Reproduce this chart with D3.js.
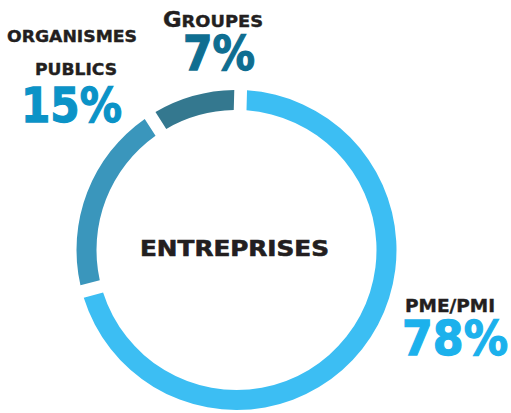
<!DOCTYPE html>
<html>
<head>
<meta charset="utf-8">
<script src="https://cdn.jsdelivr.net/npm/d3@7.9.0/dist/d3.min.js"></script>
<style>
  body { margin: 0; background: #fff; }
  text { font-family: "DejaVu Sans", sans-serif; font-weight: bold; }
</style>
</head>
<body>
<svg width="511" height="413"></svg>
<script>
// categories and values
const categories = ['PME/PMI', 'ORGANISMES PUBLICS', 'GROUPES'];
const percentLabels = [78, 15, 7];
// arc shares as drawn in the picture (the ring does not follow the labels exactly)
const arcShares = [71.5, 19.7, 8.8];
const ringColors = ['#3cbef3', '#3a96bc', '#34788f'];
const labelColors = ['#1cb1ec', '#0b93c7', '#0f6e91'];

const svg = d3.select('svg');
const cx = 236.5, cy = 250;

let data = categories.map((c, i) => ({ label: c, pct: percentLabels[i], share: arcShares[i] }));

let start = 0.026;
let pie = d3.pie().value(d => d.share).sort(null)
  .startAngle(start).endAngle(start + 2 * Math.PI).padAngle(0.06);
let arcGenerator = d3.arc().innerRadius(140).outerRadius(160);

let g = svg.append('g').attr('transform', `translate(${cx},${cy})`);
g.selectAll('path')
  .data(pie(data))
  .join('path')
  .attr('d', arcGenerator)
  .attr('fill', (d, i) => ringColors[i]);

function addText(x, y, size, len, color, str, sw) {
  return svg.append('text')
    .attr('x', x).attr('y', y)
    .attr('font-size', size)
    .attr('fill', color)
    .attr('stroke', color).attr('stroke-width', sw)
    .attr('textLength', len).attr('lengthAdjust', 'spacingAndGlyphs')
    .text(str);
}

// center title
addText(140, 256, 21, 189, '#231f20', 'ENTREPRISES', 0.6);

// PME/PMI
addText(405, 312, 17, 90, '#231f20', 'PME/PMI', 0.4);
addText(402, 355, 48, 106, labelColors[0], percentLabels[0] + '%', 1.3);

// organismes publics
addText(7, 42, 16.5, 130, '#231f20', 'ORGANISMES', 0.4);
addText(35, 75, 16.5, 82, '#231f20', 'PUBLICS', 0.4);
addText(21, 122, 48, 101, labelColors[1], percentLabels[1] + '%', 1.3);

// groupes (small caps look)
let gt = svg.append('text')
  .attr('x', 163).attr('y', 27)
  .attr('fill', '#231f20')
  .attr('stroke', '#231f20').attr('stroke-width', 0.4)
  .attr('textLength', 100).attr('lengthAdjust', 'spacingAndGlyphs');
gt.append('tspan').attr('font-size', 21).text('G');
gt.append('tspan').attr('font-size', 16.5).text('ROUPES');
addText(183, 70, 48, 72, labelColors[2], percentLabels[2] + '%', 1.3);
</script>
</body>
</html>
